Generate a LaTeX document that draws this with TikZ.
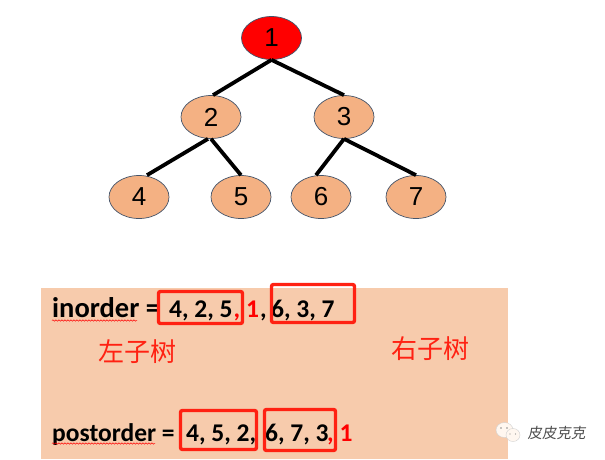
\documentclass[tikz,border=0pt]{standalone}
\usepackage{fontspec}
\setmainfont{Liberation Sans}
\newfontfamily\calfont{Carlito}
\newfontfamily\cjk{Noto Sans CJK SC}
\newfontfamily\cjkslant{Noto Sans CJK SC}[FakeSlant=0.15]
\usetikzlibrary{decorations.pathmorphing,shapes.geometric}
\definecolor{panel}{HTML}{F7CBAC}
\definecolor{peach}{HTML}{F4B183}
\definecolor{redbox}{HTML}{FF2112}
\definecolor{rim}{HTML}{44546A}
\tikzset{
  treenode/.style={ellipse,draw=rim,line width=0.7pt,fill=peach,minimum width=60pt,minimum height=43pt,inner sep=0pt,font=\fontsize{26}{26}\selectfont,text=black},
  rootnode/.style={treenode,fill=red},
  edge/.style={line width=3.8pt,black},
  code/.style={anchor=base west,inner sep=0pt,font=\calfont\bfseries\fontsize{25.5}{26}\selectfont,text=black},
  redcode/.style={code,text=red},
  hl/.style={draw=redbox,line width=3.4pt,rounded corners=2pt,anchor=north west,inner sep=0pt,outer sep=0pt},
  cn/.style={inner sep=0pt,font=\cjk\fontsize{26}{26}\selectfont,text=redbox},
  squig/.style={draw=red,line width=0.5pt,decorate,decoration={snake,amplitude=0.7pt,segment length=3pt}},
  bubble/.style={fill=white!94!orange,draw=black!18,line width=0.4pt},
}
\begin{document}
\begin{tikzpicture}[x=1pt,y=-1pt]
\useasboundingbox (0,0) rectangle (605,459);
\fill[white] (0,0) rectangle (605,459);
\fill[panel] (41,288) rectangle (508,459);
% tree
\node[rootnode] (n1) at (271.5,38) {1};
\node[treenode] (n2) at (211,117) {2};
\node[treenode] (n3) at (344,117) {3};
\node[treenode] (n4) at (139,197) {4};
\node[treenode] (n5) at (241,197) {5};
\node[treenode] (n6) at (321,197) {6};
\node[treenode] (n7) at (416,197) {7};
\draw[edge] (n1.south) -- ([xshift=2pt]n2.north);
\draw[edge] (n1.south) -- (n3.north);
\draw[edge] ([xshift=-3pt]n2.south) -- ([xshift=8pt]n4.north);
\draw[edge] (n2.south) -- (n5.north);
\draw[edge] (n3.south) -- ([xshift=-5pt]n6.north);
\draw[edge] (n3.south) -- (n7.north);
% text rows
\node[code,font=\calfont\bfseries\fontsize{28.5}{29}\selectfont] (t1) at (52,317) {inorder =};
\node[code] (t2) at (169,317) {4, 2, 5};
\node[redcode] (t3) at (233.5,317) {, 1};
\node[code] (t4) at (260,317) {,};
\node[code] (t5) at (271,317) {6, 3, 7};
\node[code] (t6) at (52,441) {postorder =};
\node[code] (t7) at (186,441) {4, 5, 2,};
\node[code] (t8) at (265,441) {6, 7, 3};
\node[redcode] (t9) at (327,441) {, 1};
% highlight boxes
\node[hl,minimum width=84pt,minimum height=32pt] (b1) at (158.5,291.5) {};
\node[hl,minimum width=83pt,minimum height=38pt] (b2) at (271.5,284.5) {};
\node[hl,minimum width=76pt,minimum height=39pt] (b3) at (180.5,410.5) {};
\node[hl,minimum width=71pt,minimum height=41pt] (b4) at (264.5,409.5) {};
% labels
\node[cn] (l) at (137,352) {左子树};
\node[cn] (r) at (430.5,349) {右子树};
% spell-check squiggles
\draw[squig] (52,320.5) -- (137,320.5);
\draw[squig] (52,443.5) -- (155,443.5);
% watermark
\path[bubble] (504.5,430) ellipse (8.5pt and 7.5pt);
\path[bubble] (513,435) ellipse (7pt and 6.5pt);
\fill[black!45] (501,428) circle (0.8pt) (507,428) circle (0.8pt) (510,434) circle (0.7pt) (515.5,434) circle (0.7pt);
\node[inner sep=0pt,font=\cjkslant\fontsize{14.5}{14.5}\selectfont,text=black!70] (w) at (556.5,433) {皮皮克克};
\end{tikzpicture}
\end{document}
